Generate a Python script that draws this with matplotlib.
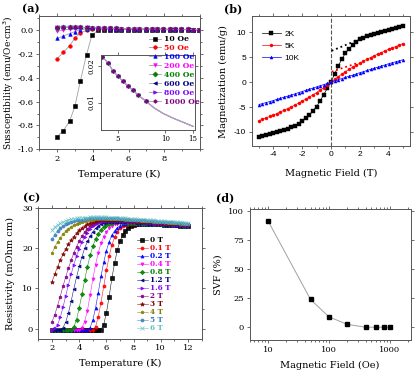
import matplotlib
matplotlib.use("Agg")
import matplotlib.pyplot as plt
from matplotlib.ticker import MultipleLocator, NullLocator, LogLocator, NullFormatter, FormatStrFormatter

plt.rcParams['font.family'] = ['DejaVu Serif']
plt.rcParams['axes.unicode_minus'] = False

# ---------------- (a) susceptibility vs temperature ----------------
temp_a = [2.0, 2.35, 2.7, 3.0, 3.3, 3.65, 3.95, 4.3, 4.6, 4.95, 5.3, 5.6, 5.95,
          6.3, 6.6, 6.95, 7.3, 7.6, 7.95, 8.3, 8.6, 8.95, 9.3, 9.6, 9.95]
chi_10 = [-0.896, -0.845, -0.765, -0.640, -0.430, -0.206, -0.042, 0.004, 0.006, 0.006, 0.006, 0.006, 0.006,
          0.005, 0.005, 0.005, 0.005, 0.005, 0.004, 0.004, 0.004, 0.004, 0.004, 0.004, 0.003]
chi_50 = [-0.240, -0.185, -0.130, -0.066, -0.022, 0.000, 0.010, 0.014, 0.014, 0.013, 0.013, 0.012, 0.011,
          0.011, 0.010, 0.010, 0.009, 0.009, 0.009, 0.008, 0.008, 0.008, 0.007, 0.007, 0.007]
chi_100 = [-0.068, -0.048, -0.028, -0.010, 0.004, 0.012, 0.016, 0.017, 0.016, 0.015, 0.014, 0.013, 0.012,
           0.012, 0.011, 0.010, 0.010, 0.009, 0.009, 0.009, 0.008, 0.008, 0.008, 0.007, 0.007]
chi_200 = [-0.008, 0.002, 0.010, 0.015, 0.018, 0.020, 0.020, 0.019, 0.018, 0.016, 0.015, 0.014, 0.013,
           0.012, 0.012, 0.011, 0.010, 0.010, 0.009, 0.009, 0.008, 0.008, 0.008, 0.007, 0.007]
chi_400 = [0.022, 0.024, 0.025, 0.025, 0.024, 0.023, 0.022, 0.021, 0.019, 0.017, 0.016, 0.015, 0.014,
           0.013, 0.012, 0.011, 0.011, 0.010, 0.009, 0.009, 0.008, 0.008, 0.008, 0.007, 0.007]
chi_600 = [0.026, 0.027, 0.027, 0.026, 0.025, 0.024, 0.023, 0.021, 0.019, 0.018, 0.016, 0.015, 0.014,
           0.013, 0.012, 0.011, 0.011, 0.010, 0.009, 0.009, 0.008, 0.008, 0.008, 0.007, 0.007]
chi_800 = [0.028, 0.028, 0.028, 0.027, 0.026, 0.025, 0.023, 0.021, 0.019, 0.018, 0.016, 0.015, 0.014,
           0.013, 0.012, 0.011, 0.011, 0.010, 0.009, 0.009, 0.008, 0.008, 0.008, 0.007, 0.007]
chi_1000 = [0.030, 0.030, 0.029, 0.028, 0.027, 0.025, 0.023, 0.021, 0.019, 0.018, 0.016, 0.015, 0.014,
            0.013, 0.012, 0.011, 0.011, 0.010, 0.009, 0.009, 0.008, 0.008, 0.008, 0.007, 0.007]
labels_a = ['10 Oe', '50 Oe', '100 Oe', '200 Oe', '400 Oe', '600 Oe', '800 Oe', '1000 Oe']

# inset (normal state, T > 4 K)
inset_temp = [3.98, 4.32, 4.65, 5.0, 5.38, 5.79, 6.22, 6.69, 7.55, 8.52, 9.63, 11.15, 12.9, 15.1]
inset_chi = [0.0223, 0.0208, 0.0185, 0.0171, 0.0158, 0.0144, 0.0133, 0.0121, 0.0103, 0.0085,
             0.0071, 0.0058, 0.0047, 0.0035]

# ---------------- (b) magnetization vs field ----------------
field_b = [-5.0, -4.75, -4.5, -4.25, -4.0, -3.75, -3.5, -3.25, -3.0, -2.75, -2.5, -2.25, -2.0, -1.75,
           -1.5, -1.25, -1.0, -0.75, -0.5, -0.25, 0.0, 0.25, 0.5, 0.75, 1.0, 1.25, 1.5, 1.75, 2.0,
           2.25, 2.5, 2.75, 3.0, 3.25, 3.5, 3.75, 4.0, 4.25, 4.5, 4.75, 5.0]
mag_2k = [-11.0, -10.85, -10.7, -10.5, -10.3, -10.1, -9.9, -9.7, -9.45, -9.1, -8.75, -8.35, -7.9, -7.3,
          -6.6, -5.8, -4.9, -3.8, -2.5, -1.25, 0.0, 1.6, 3.2, 4.6, 5.8, 6.7, 7.4, 8.1, 8.6,
          8.95, 9.25, 9.5, 9.75, 9.95, 10.15, 10.35, 10.55, 10.75, 10.9, 11.05, 11.2]
mag_5k = [-7.75, -7.45, -7.15, -6.9, -6.6, -6.3, -5.95, -5.65, -5.3, -4.95, -4.6, -4.2, -3.8, -3.4,
          -3.0, -2.55, -2.1, -1.6, -1.1, -0.55, 0.0, 0.55, 1.1, 1.6, 2.1, 2.55, 3.0, 3.4, 3.8,
          4.2, 4.6, 4.95, 5.3, 5.65, 5.95, 6.3, 6.6, 6.9, 7.15, 7.45, 7.75]
mag_10k = [-4.5, -4.3, -4.1, -3.9, -3.7, -3.45, -3.25, -3.0, -2.8, -2.55, -2.35, -2.1, -1.9, -1.65,
           -1.4, -1.2, -0.95, -0.7, -0.5, -0.25, 0.0, 0.25, 0.5, 0.7, 0.95, 1.2, 1.4, 1.65, 1.9,
           2.1, 2.35, 2.55, 2.8, 3.0, 3.25, 3.45, 3.7, 3.9, 4.1, 4.3, 4.5]
fit_h_2k = [0.05, 2.6]
fit_m_2k = [6.3, 9.35]
fit_h_5k = [0.05, 1.9]
fit_m_5k = [2.1, 3.9]

# ---------------- (c) resistivity vs temperature ----------------
temp_c = [2.0, 2.2, 2.4, 2.6, 2.8, 3.0, 3.2, 3.4, 3.6, 3.8, 4.0, 4.2, 4.4, 4.6, 4.8, 5.0, 5.2,
          5.4, 5.6, 5.8, 6.0, 6.2, 6.4, 6.6, 6.8, 7.0, 7.2, 7.4, 7.6, 7.8, 8.0, 8.2, 8.4, 8.6,
          8.8, 9.0, 9.2, 9.4, 9.6, 9.8, 10.0, 10.2, 10.4, 10.6, 10.8, 11.0, 11.2, 11.4, 11.6,
          11.8, 12.0]
rho_0t = [-0.3, -0.3, -0.3, -0.3, -0.3, -0.3, -0.3, -0.3, -0.3, -0.3, -0.3, -0.3, -0.3, -0.3, -0.3,
          -0.3, -0.3, -0.3, -0.2, 1.0, 4.0, 8.0, 12.5, 16.3, 19.5, 21.8, 23.3, 24.3, 25.0, 25.5,
          25.8, 26.0, 26.1, 26.1, 26.1, 26.0, 26.0, 26.0, 25.9, 25.9, 25.9, 25.8, 25.8, 25.8,
          25.7, 25.7, 25.7, 25.6, 25.6, 25.6, 25.5]
rho_01t = [-0.3, -0.3, -0.3, -0.3, -0.3, -0.3, -0.3, -0.3, -0.3, -0.3, -0.3, -0.3, -0.3, -0.3, -0.3,
           -0.3, 0.5, 3.0, 6.5, 10.5, 14.5, 18.0, 20.8, 22.7, 24.0, 24.9, 25.5, 25.8, 26.0, 26.1,
           26.1, 26.1, 26.1, 26.1, 26.1, 26.0, 26.0, 26.0, 25.9, 25.9, 25.9, 25.8, 25.8, 25.8,
           25.7, 25.7, 25.7, 25.6, 25.6, 25.6, 25.5]
rho_02t = [-0.3, -0.3, -0.3, -0.3, -0.3, -0.3, -0.3, -0.3, -0.3, -0.3, -0.3, -0.3, -0.3, -0.3, 0.3,
           2.2, 5.2, 9.0, 13.0, 16.5, 19.4, 21.6, 23.2, 24.3, 25.1, 25.6, 25.9, 26.1, 26.2, 26.2,
           26.2, 26.2, 26.1, 26.1, 26.1, 26.0, 26.0, 26.0, 25.9, 25.9, 25.9, 25.8, 25.8, 25.8,
           25.7, 25.7, 25.7, 25.6, 25.6, 25.6, 25.5]
rho_04t = [-0.3, -0.3, -0.3, -0.3, -0.3, -0.3, -0.3, -0.3, -0.3, -0.3, -0.3, 0.3, 1.8, 4.5, 8.3,
           12.3, 15.9, 18.9, 21.2, 22.9, 24.1, 24.9, 25.5, 25.9, 26.1, 26.2, 26.3, 26.3, 26.3,
           26.3, 26.2, 26.2, 26.2, 26.1, 26.1, 26.0, 26.0, 26.0, 25.9, 25.9, 25.9, 25.8, 25.8,
           25.8, 25.7, 25.7, 25.7, 25.6, 25.6, 25.6, 25.5]
rho_08t = [-0.3, -0.3, -0.3, -0.3, -0.3, -0.3, -0.3, -0.3, 0.4, 2.3, 5.2, 8.6, 12.1, 15.4, 18.2,
           20.5, 22.3, 23.6, 24.6, 25.3, 25.8, 26.1, 26.3, 26.4, 26.4, 26.4, 26.4, 26.4, 26.3,
           26.3, 26.3, 26.2, 26.2, 26.1, 26.1, 26.0, 26.0, 26.0, 25.9, 25.9, 25.9, 25.8, 25.8,
           25.8, 25.7, 25.7, 25.7, 25.6, 25.6, 25.6, 25.5]
rho_12t = [-0.3, -0.3, -0.3, -0.3, 0.3, 1.6, 3.9, 6.8, 9.9, 12.8, 15.5, 17.9, 20.0, 21.7, 23.0,
           24.1, 24.9, 25.5, 26.0, 26.3, 26.5, 26.6, 26.6, 26.6, 26.6, 26.6, 26.5, 26.5, 26.5,
           26.4, 26.4, 26.3, 26.3, 26.2, 26.2, 26.1, 26.1, 26.0, 26.0, 25.9, 25.9, 25.8, 25.8,
           25.7, 25.7, 25.7, 25.6, 25.6, 25.6, 25.5, 25.5]
rho_16t = [-0.3, 0.1, 1.0, 2.8, 5.3, 8.1, 10.9, 13.5, 15.9, 18.0, 19.9, 21.5, 22.8, 23.9, 24.7,
           25.4, 25.9, 26.2, 26.5, 26.7, 26.8, 26.8, 26.8, 26.8, 26.8, 26.7, 26.7, 26.7, 26.6,
           26.6, 26.5, 26.5, 26.4, 26.4, 26.3, 26.3, 26.2, 26.2, 26.1, 26.1, 26.0, 26.0, 25.9,
           25.9, 25.8, 25.8, 25.8, 25.7, 25.7, 25.6, 25.6]
rho_2t = [1.8, 3.5, 5.7, 8.0, 10.5, 12.8, 15.0, 17.0, 18.8, 20.4, 21.8, 23.0, 24.0, 24.8, 25.5,
          26.0, 26.4, 26.7, 26.9, 27.0, 27.0, 27.0, 27.0, 27.0, 26.9, 26.9, 26.9, 26.8, 26.8,
          26.7, 26.7, 26.6, 26.6, 26.5, 26.5, 26.4, 26.4, 26.3, 26.3, 26.2, 26.2, 26.1, 26.1,
          26.0, 26.0, 25.9, 25.9, 25.8, 25.8, 25.7, 25.7]
rho_3t = [11.7, 13.6, 15.4, 17.0, 18.5, 19.8, 21.0, 22.0, 22.9, 23.7, 24.4, 25.0, 25.5, 25.9,
          26.2, 26.5, 26.7, 26.9, 27.0, 27.1, 27.1, 27.1, 27.1, 27.1, 27.0, 27.0, 27.0, 26.9,
          26.9, 26.8, 26.8, 26.7, 26.7, 26.6, 26.6, 26.5, 26.5, 26.4, 26.4, 26.3, 26.3, 26.2,
          26.2, 26.1, 26.1, 26.0, 26.0, 25.9, 25.9, 25.8, 25.8]
rho_4t = [18.8, 20.3, 21.6, 22.6, 23.5, 24.2, 24.8, 25.3, 25.7, 26.0, 26.3, 26.5, 26.7, 26.9,
          27.0, 27.1, 27.2, 27.2, 27.3, 27.3, 27.3, 27.3, 27.3, 27.3, 27.2, 27.2, 27.2, 27.1,
          27.1, 27.0, 27.0, 26.9, 26.9, 26.8, 26.8, 26.7, 26.7, 26.6, 26.6, 26.5, 26.5, 26.4,
          26.4, 26.3, 26.3, 26.2, 26.2, 26.1, 26.1, 26.0, 26.0]
rho_5t = [22.3, 23.4, 24.3, 25.0, 25.5, 25.9, 26.2, 26.5, 26.7, 26.9, 27.0, 27.1, 27.2, 27.3,
          27.4, 27.4, 27.5, 27.5, 27.5, 27.5, 27.5, 27.5, 27.4, 27.4, 27.4, 27.3, 27.3, 27.2,
          27.2, 27.1, 27.1, 27.0, 27.0, 26.9, 26.9, 26.8, 26.8, 26.7, 26.7, 26.6, 26.6, 26.5,
          26.5, 26.4, 26.4, 26.3, 26.3, 26.2, 26.2, 26.1, 26.1]
rho_6t = [24.6, 25.3, 25.8, 26.2, 26.5, 26.8, 27.0, 27.2, 27.3, 27.4, 27.5, 27.5, 27.6, 27.6,
          27.7, 27.7, 27.7, 27.7, 27.7, 27.7, 27.7, 27.6, 27.6, 27.6, 27.5, 27.5, 27.4, 27.4,
          27.3, 27.3, 27.2, 27.2, 27.1, 27.1, 27.0, 27.0, 26.9, 26.9, 26.8, 26.8, 26.7, 26.7,
          26.6, 26.6, 26.5, 26.5, 26.4, 26.4, 26.3, 26.3, 26.2]
labels_c = ['0 T', '0.1 T', '0.2 T', '0.4 T', '0.8 T', '1.2 T', '1.6 T', '2 T', '3 T', '4 T', '5 T', '6 T']

# ---------------- (d) SVF vs field ----------------
svf_field = [10, 50, 100, 200, 400, 600, 800, 1000]
svf = [92, 24, 9, 2.5, 0, 0, 0, 0]

# origin-like colours and symbols
cols = ['#000000', '#ff0000', '#0000ff', '#ff00ff', '#008000', '#000080', '#8000ff', '#800080',
        '#800000', '#808000', '#3f7fc0', '#5fbfbf']
marks = ['s', 'o', '^', 'v', 'D', '<', '>', 'h', '*', 'p', 'o', 'x']
spine_col = '#555555'


def style_axes(ax, fs=6):
    for s in ax.spines.values():
        s.set_linewidth(0.7)
        s.set_color(spine_col)
    ax.tick_params(which='both', direction='out', top=True, right=True, labelsize=fs,
                   width=0.6, color=spine_col, pad=1.5)
    ax.tick_params(which='major', length=2.5)
    ax.tick_params(which='minor', length=1.5)


fig = plt.figure(figsize=(4.16, 3.74), dpi=100)

# ---- (a)
ax_a = fig.add_axes([0.094, 0.601, 0.387, 0.356])
chis = [chi_10, chi_50, chi_100, chi_200, chi_400, chi_600, chi_800, chi_1000]
handles_a = []
for i, chi in enumerate(chis):
    h, = ax_a.plot(temp_a, chi, color='#a0a0a0', lw=0.6, marker=marks[i], ms=2.6,
                   mfc=cols[i], mec=cols[i], mew=0.4, label=labels_a[i])
    handles_a.append(h)
ax_a.set_xlim(1, 10)
ax_a.set_ylim(-1.0, 0.12)
ax_a.set_xticks([2, 4, 6, 8])
ax_a.xaxis.set_minor_locator(MultipleLocator(1))
ax_a.yaxis.set_major_locator(MultipleLocator(0.2))
ax_a.yaxis.set_minor_locator(MultipleLocator(0.1))
ax_a.yaxis.set_major_formatter(FormatStrFormatter('%.1f'))
style_axes(ax_a)
ax_a.set_xlabel('Temperature (K)', fontsize=7, labelpad=5)
ax_a.set_ylabel('Sussceptibility (emu/Oe$\\cdot$cm$^3$)', fontsize=6.5, labelpad=1)

ax_in = fig.add_axes([0.243, 0.653, 0.226, 0.201])
for i in range(3, 8):
    ax_in.plot(inset_temp, inset_chi, color='#b0a0c0', lw=0.7, marker=marks[i], ms=2.4,
               mfc=cols[i], mec=cols[i], mew=0.3, markevery=slice(0, 9))
ax_in.set_xscale('log')
ax_in.set_xlim(3.9, 15.5)
ax_in.set_ylim(0.0026, 0.023)
ax_in.set_xticks([5, 10, 15])
ax_in.set_xticklabels(['5', '10', '15'])
ax_in.xaxis.set_minor_locator(NullLocator())
ax_in.set_yticks([0.01, 0.02])
ax_in.set_yticklabels(['0.01', '0.02'], rotation=90, va='center')
style_axes(ax_in, fs=5)

# legend sits over the inset, as in the paper figure
fig.legend(handles=handles_a, loc='upper left', bbox_to_anchor=(0.66, 0.885),
           bbox_transform=ax_a.transAxes, frameon=False, borderpad=0,
           prop={'weight': 'bold', 'size': 5.5}, handlelength=1.6, handletextpad=0.4,
           labelspacing=0.12, labelcolor='markerfacecolor')

# ---- (b)
ax_b = fig.add_axes([0.605, 0.610, 0.381, 0.346])
ax_b.axvline(0, color='#555555', lw=0.8, ls='--', zorder=1)
ax_b.plot(field_b, mag_2k, color='#000000', lw=0.5, marker='s', ms=2.2, mew=0.3, label='2K')
ax_b.plot(field_b, mag_5k, color='#ff0000', lw=0.5, marker='o', ms=2.2, mew=0.3, label='5K')
ax_b.plot(field_b, mag_10k, color='#0000ff', lw=0.5, marker='^', ms=2.2, mew=0.3, label='10K')
ax_b.plot(fit_h_2k, fit_m_2k, color='#000000', lw=1.3, ls=':')
ax_b.plot(fit_h_5k, fit_m_5k, color='#ff0000', lw=1.3, ls=':')
ax_b.set_xlim(-5.5, 5.5)
ax_b.set_ylim(-12.8, 13.2)
ax_b.xaxis.set_major_locator(MultipleLocator(2))
ax_b.xaxis.set_minor_locator(MultipleLocator(1))
ax_b.yaxis.set_major_locator(MultipleLocator(5))
style_axes(ax_b)
for t in ax_b.get_xticklabels() + ax_b.get_yticklabels():
    t.set_fontfamily('Liberation Sans')
ax_b.set_xlabel('Magnetic Field (T)', fontsize=7, labelpad=7.5)
ax_b.set_ylabel('Magnetization (emu/g)', fontsize=7, labelpad=4)
ax_b.legend(loc='upper left', bbox_to_anchor=(0.04, 0.93), frameon=False, borderpad=0,
            prop={'family': 'Liberation Sans', 'size': 6}, handlelength=2.2,
            handletextpad=0.5, labelspacing=0.55)

# ---- (c)
ax_c = fig.add_axes([0.0925, 0.094, 0.392, 0.350])
rhos = [rho_0t, rho_01t, rho_02t, rho_04t, rho_08t, rho_12t, rho_16t, rho_2t, rho_3t, rho_4t,
        rho_5t, rho_6t]
for i, rho in enumerate(rhos):
    ms = 3.0 if marks[i] == '*' else 2.2
    ax_c.plot(temp_c, rho, color=cols[i], alpha=0.9, lw=0.4, marker=marks[i], ms=ms,
              mfc=cols[i], mec=cols[i], mew=0.5, label=labels_c[i])
ax_c.set_xlim(1, 13)
ax_c.set_ylim(-2.5, 30)
ax_c.set_xticks([2, 4, 6, 8, 10, 12])
ax_c.xaxis.set_minor_locator(MultipleLocator(1))
ax_c.yaxis.set_major_locator(MultipleLocator(10))
ax_c.yaxis.set_minor_locator(MultipleLocator(5))
style_axes(ax_c)
ax_c.set_xlabel('Temperature (K)', fontsize=7, labelpad=5)
ax_c.set_ylabel('Resistivity (mOhm cm)', fontsize=7, labelpad=5)
ax_c.legend(loc='upper left', bbox_to_anchor=(0.58, 0.81), frameon=False, borderpad=0,
            prop={'weight': 'bold', 'size': 5.2}, handlelength=1.5, handletextpad=0.4,
            labelspacing=0.0, handleheight=0.5, labelcolor='markerfacecolor')

# ---- (d)
ax_d = fig.add_axes([0.600, 0.091, 0.387, 0.350])
ax_d.plot(svf_field, svf, color='#a0a0a0', lw=0.7, marker='s', ms=2.6, mfc='black', mec='black')
ax_d.set_xscale('log')
ax_d.set_xlim(5, 2200)
ax_d.set_ylim(-11, 102)
ax_d.set_xticks([10, 100, 1000])
ax_d.set_xticklabels(['10', '100', '1000'])
ax_d.xaxis.set_minor_locator(LogLocator(subs=range(2, 10)))
ax_d.xaxis.set_minor_formatter(NullFormatter())
ax_d.yaxis.set_major_locator(MultipleLocator(25))
style_axes(ax_d)
ax_d.set_xlabel('Magnetic Field (Oe)', fontsize=7, labelpad=5)
ax_d.set_ylabel('SVF (%)', fontsize=7, labelpad=4)

# panel labels
for lab, x, y in [('(a)', 0.052, 0.992), ('(b)', 0.538, 0.992), ('(c)', 0.055, 0.487), ('(d)', 0.519, 0.487)]:
    fig.text(x, y, lab, fontsize=8, fontweight='bold', va='top', ha='left')

fig.savefig('out.png', dpi=100)
